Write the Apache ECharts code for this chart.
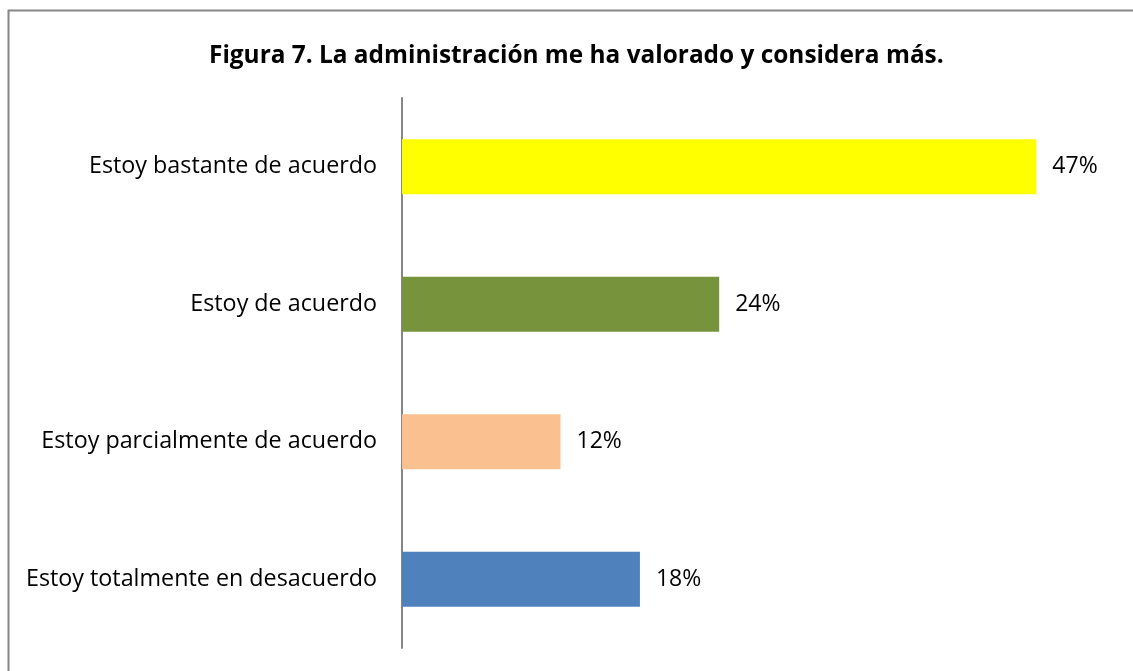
<!DOCTYPE html>
<html>
<head>
<meta charset="utf-8">
<script src="https://cdn.jsdelivr.net/npm/echarts@6/dist/echarts.min.js"></script>
<style>
    html, body { margin: 0; padding: 0; background: #fff; }
    #chartmain { width: 1133px; height: 671px; }
</style>
</head>
<body>
<div id="chartmain"></div>
<script>
// datos de la figura (de abajo hacia arriba)
var categorias = ['Estoy totalmente en desacuerdo', 'Estoy parcialmente de acuerdo', 'Estoy de acuerdo', 'Estoy bastante de acuerdo'];
var valores = [17.65, 11.76, 23.53, 47.06];
var colores = ['#4F81BD', '#FAC090', '#77933C', '#FFFF00'];
var titulo = 'Figura 7. La administración me ha valorado y considera más.';

var myChart = echarts.init(document.getElementById('chartmain'));

var option = {
    animation: false,
    textStyle: { fontFamily: 'Open Sans' },
    title: {
        text: titulo,
        left: 204,
        top: 39,
        textStyle: { fontFamily: 'Open Sans', fontWeight: 'bold', fontSize: 24.4, color: '#000' }
    },
    graphic: [
        {
            type: 'polyline',
            shape: { points: [[8.5, 671], [8.5, 10.5], [1133, 10.5]] },
            style: { stroke: '#868686', lineWidth: 2, fill: null }
        }
    ],
    grid: { left: 402, top: 98, width: 674, height: 550 },
    xAxis: {
        type: 'value',
        min: 0,
        max: 50,
        show: false
    },
    yAxis: {
        type: 'category',
        data: categorias,
        axisLine: { lineStyle: { color: '#868686', width: 2 } },
        axisTick: { show: false },
        axisLabel: { fontFamily: 'Open Sans', fontSize: 23.3, color: '#000', margin: 25 }
    },
    series: [{
        type: 'bar',
        data: valores.map(function (v, i) {
            return { value: v, itemStyle: { color: colores[i] } };
        }),
        barCategoryGap: '60%',
        label: {
            show: true,
            position: 'right',
            distance: 16,
            fontFamily: 'Open Sans',
            fontSize: 23,
            color: '#000',
            formatter: function (p) { return Math.round(p.value) + '%'; }
        }
    }]
};

myChart.setOption(option);
</script>
</body>
</html>
